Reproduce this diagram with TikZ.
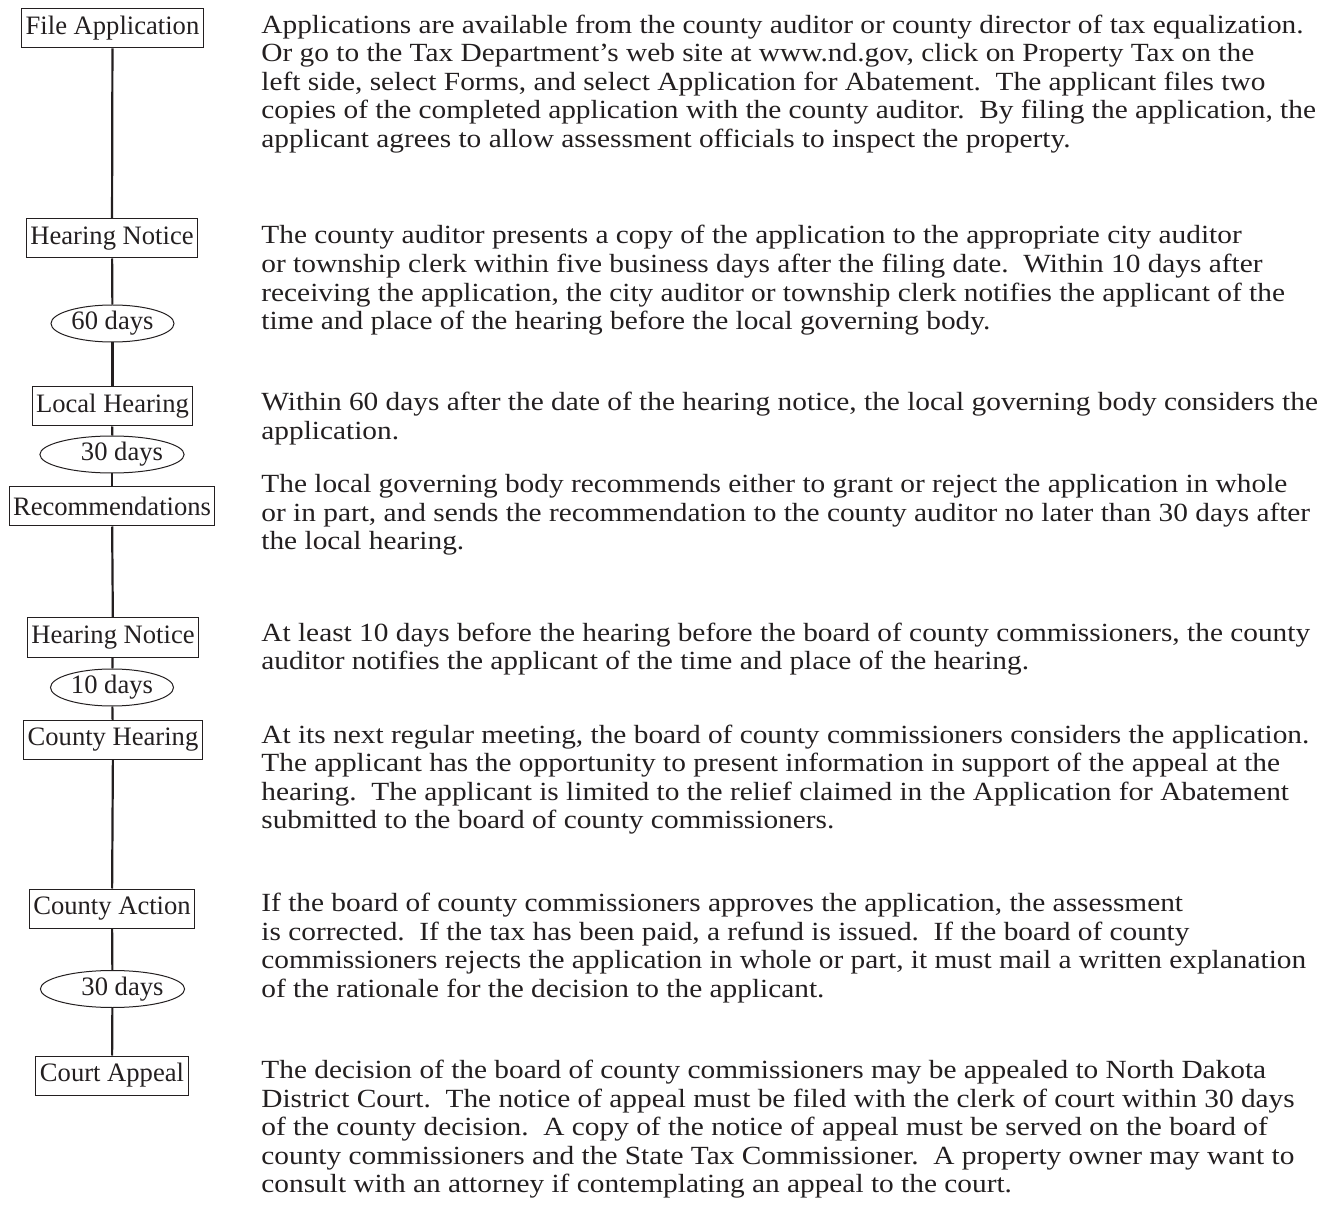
\documentclass[tikz,border=0pt]{standalone}
\usepackage{fontspec}
\setmainfont{Liberation Serif}
\newfontfamily\parafont[Ligatures=TeX, FakeStretch=1.12]{Liberation Serif}
\usetikzlibrary{shapes.geometric}
\definecolor{ink}{HTML}{231F20}

\begin{document}
\begin{tikzpicture}[x=0.5pt,y=-0.5pt,
  every node/.style={font=\fontsize{13.3}{14.25}\selectfont, text=ink},
  stage/.style={draw=ink, line width=0.5pt, inner sep=2pt, minimum height=19.5pt},
  period/.style={draw=ink, line width=0.5pt, ellipse, inner sep=0pt, minimum width=61.5pt, minimum height=18.5pt},
  spine/.style={draw=ink, line width=1.1pt},
  para/.style={anchor=base west, align=left, inner sep=0pt, font=\parafont\fontsize{13.1}{14.25}\selectfont}]
  \useasboundingbox (0,0) rectangle (1330,1230);

  % timeline
  \node[stage] (fileapp) at (112.5,28.5) {File Application};
  \node[stage] (notice1) at (112,238.5) {Hearing Notice};
  \node[period] (days60) at (112.5,323.5) {60 days};
  \node[stage] (localhear) at (112.5,406.5) {Local Hearing};
  \node[period] (days30a) at (112,454.5) {\hspace*{10pt}30 days};
  \node[stage] (recomm) at (112,506.5) {Recommendations};
  \node[stage] (notice2) at (113,637.5) {Hearing Notice};
  \node[period] (days10) at (112,687.5) {10 days};
  \node[stage] (countyhear) at (113,740) {County Hearing};
  \node[stage] (countyact) at (112,908.5) {County Action};
  \node[period] (days30b) at (112.5,989) {\hspace*{10pt}30 days};
  \node[stage] (courtapp) at (112,1075.5) {Court Appeal};

  \draw[spine] (fileapp) -- (notice1);
  \draw[spine] (notice1) -- (days60);
  \draw[spine] (days60) -- (localhear);
  \draw[spine] (localhear) -- (days30a);
  \draw[spine] (days30a) -- (recomm);
  \draw[spine] (recomm) -- (notice2);
  \draw[spine] (notice2) -- (days10);
  \draw[spine] (days10) -- (countyhear);
  \draw[spine] (countyhear) -- (countyact);
  \draw[spine] (countyact) -- (days30b);
  \draw[spine] (days30b) -- (courtapp);

  % explanations (placed at the baseline of their last line)
  \node[para] (txtfile) at (261,147.5) {Applications are available from the county auditor or county director of tax equalization.\\
    Or go to the Tax Department's web site at www.nd.gov, click on Property Tax on the\\
    left side, select Forms, and select Application for Abatement.\ \ The applicant files two\\
    copies of the completed application with the county auditor.\ \ By filing the application, the\\
    applicant agrees to allow assessment officials to inspect the property.};
  \node[para] (txtnotice1) at (261,329.5) {The county auditor presents a copy of the application to the appropriate city auditor\\
    or township clerk within five business days after the filing date.\ \ Within 10 days after\\
    receiving the application, the city auditor or township clerk notifies the applicant of the\\
    time and place of the hearing before the local governing body.};
  \node[para] (txtlocal) at (261,439.5) {Within 60 days after the date of the hearing notice, the local governing body considers the\\
    application.};
  \node[para] (txtrecomm) at (261,550) {The local governing body recommends either to grant or reject the application in whole\\
    or in part, and sends the recommendation to the county auditor no later than 30 days after\\
    the local hearing.};
  \node[para] (txtnotice2) at (261,669.5) {At least 10 days before the hearing before the board of county commissioners, the county\\
    auditor notifies the applicant of the time and place of the hearing.};
  \node[para] (txtcounty) at (261,828.5) {At its next regular meeting, the board of county commissioners considers the application.\\
    The applicant has the opportunity to present information in support of the appeal at the\\
    hearing.\ \ The applicant is limited to the relief claimed in the Application for Abatement\\
    submitted to the board of county commissioners.};
  \node[para] (txtaction) at (261,997) {If the board of county commissioners approves the application, the assessment\\
    is corrected.\ \ If the tax has been paid, a refund is issued.\ \ If the board of county\\
    commissioners rejects the application in whole or part, it must mail a written explanation\\
    of the rationale for the decision to the applicant.};
  \node[para] (txtcourt) at (261,1192.5) {The decision of the board of county commissioners may be appealed to North Dakota\\
    District Court.\ \ The notice of appeal must be filed with the clerk of court within 30 days\\
    of the county decision.\ \ A copy of the notice of appeal must be served on the board of\\
    county commissioners and the State Tax Commissioner.\ \ A property owner may want to\\
    consult with an attorney if contemplating an appeal to the court.};
\end{tikzpicture}
\end{document}
